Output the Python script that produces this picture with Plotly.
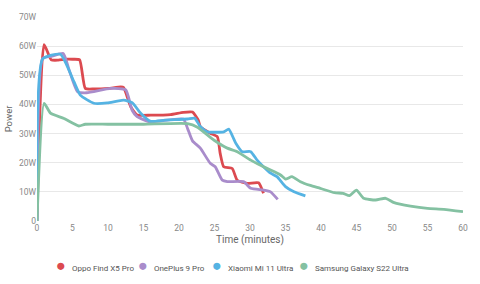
import plotly.graph_objects as go

# ---- data (time in minutes, power in W) ----
oppo_t = [0, 1, 2, 3, 4, 5, 6, 6.8, 8, 10, 11.8, 12.2, 13.2, 14.1, 16, 18.8, 20.6, 21.9, 22.7, 23, 24.4, 25.4, 25.8, 26.3, 27.5, 28.2, 29.6, 31.2, 31.9]
oppo_w = [0, 60.5, 55.3, 55.2, 55.5, 55.5, 55.3, 45.5, 45.3, 45.5, 46, 45.8, 39.2, 36.4, 36.3, 36.5, 37.3, 37.4, 34.7, 32.4, 30.1, 28.9, 23.2, 18.6, 18, 14, 12.9, 13.1, 9.5]

oneplus_t = [0, 0.8, 2, 3.7, 4.5, 5.7, 7, 10.4, 12.5, 13.4, 14.1, 16, 20.6, 21.2, 21.9, 23, 24.4, 25.1, 26.1, 26.8, 29.1, 30.1, 31.9, 32.9, 33.9]
oneplus_w = [0, 55.8, 56.5, 57.5, 52, 44.4, 44, 45.5, 45, 38, 35.8, 34, 35, 31.8, 27.5, 25, 19.8, 18.6, 14, 13.5, 13.5, 11.2, 10.6, 10, 7.4]

xiaomi_t = [0, 0.8, 3.3, 5.2, 6.1, 8, 9.9, 12.2, 13.4, 14.6, 16, 18, 21.2, 22.2, 23, 24, 26.3, 27, 28, 28.9, 30.1, 31, 31.9, 32.9, 33.8, 35, 36.2, 37.8]
xiaomi_w = [0, 55.6, 57.2, 47.8, 43.2, 40.4, 40.5, 41.5, 40.6, 37, 34.2, 34.6, 35, 35.3, 32.4, 30.6, 30.6, 31.5, 26.7, 23.8, 23.8, 20.9, 18.6, 16.4, 15.2, 11.8, 10, 8.6]

samsung_t = [0, 1, 1.9, 3.8, 5.9, 6.8, 10, 15, 21.2, 22.6, 24.9, 26.8, 28.2, 30.1, 31.9, 32.9, 34.3, 35, 35.9, 37.1, 38.5, 39.9, 41.9, 43.1, 44, 45, 46, 47.7, 49.1, 50.3, 52.6, 55, 57.3, 60]
samsung_w = [0, 40.4, 37, 35.2, 32.6, 33.2, 33.2, 33.2, 33.4, 32.2, 27.8, 25, 23.8, 20.9, 18.6, 17.5, 15.8, 14.4, 15.2, 13.5, 12.2, 11.2, 9.7, 9.5, 8.7, 10.6, 7.8, 7.2, 7.8, 6.3, 5.1, 4.3, 4.0, 3.2]

names = ["Oppo Find X5 Pro", "OnePlus 9 Pro", "Xiaomi Mi 11 Ultra", "Samsung Galaxy S22 Ultra"]
colors = ["#dc4a50", "#a98ccb", "#55b3e3", "#84c1a2"]
series = [(oppo_t, oppo_w), (oneplus_t, oneplus_w), (xiaomi_t, xiaomi_w), (samsung_t, samsung_w)]

y_ticks = [0, 10, 20, 30, 40, 50, 60, 70]
y_ticktext = ["0"] + [f"{v}W" for v in y_ticks[1:]]
x_ticks = [0, 5, 10, 15, 20, 25, 30, 35, 40, 45, 50, 55, 60]

FONT = "Roboto"

fig = go.Figure()
for (t, w), name, c in zip(series, names, colors):
    fig.add_trace(go.Scatter(
        x=t, y=w, mode="lines", name=name, showlegend=False,
        line=dict(color=c, width=2.8, shape="spline", smoothing=0.5),
        hoverinfo="skip",
    ))

# legend entries (one legend per entry so spacing can match the reference)
legend_x_px = [16, 98, 172, 259]
legend_keys = ["legend", "legend2", "legend3", "legend4"]
for name, c, key in zip(names, colors, legend_keys):
    fig.add_trace(go.Scatter(
        x=[None], y=[None], mode="markers",
        marker=dict(size=0.1, color="rgba(0,0,0,0)", opacity=0),
        name=f'<span style="color:{c};font-size:16.5px">●</span>\u00a0\u00a0\u00a0{name}',
        showlegend=True, legend=key,
    ))

legend_common = dict(
    orientation="h", xref="container", yref="container",
    yanchor="middle", xanchor="left", y=1 - 268 / 284,
    font=dict(family=FONT, size=8, color="#555555"),
    bgcolor="rgba(0,0,0,0)", borderwidth=0,
)
layout_legends = {}
for key, xp in zip(legend_keys, legend_x_px):
    layout_legends[key] = dict(legend_common, x=xp / 480)

fig.update_layout(
    width=480, height=284,
    margin=dict(l=37, r=17, t=17, b=63, autoexpand=False),
    paper_bgcolor="white", plot_bgcolor="white",
    font=dict(family=FONT, color="#888888"),
    **layout_legends,
)
fig.update_xaxes(
    range=[0, 60], tickvals=x_ticks, showgrid=False, zeroline=False,
    showline=False, ticks="", tickfont=dict(family=FONT, size=8.5, color="#888888"),
    title=dict(text="Time (minutes)", font=dict(family=FONT, size=10, color="#666666"), standoff=4),
    fixedrange=True,
)
fig.update_yaxes(
    range=[0, 70], tickvals=y_ticks, ticktext=y_ticktext,
    showgrid=True, gridcolor="#e8e8e8", gridwidth=1, zeroline=False,
    showline=False, ticks="", tickfont=dict(family=FONT, size=8.5, color="#888888"),
    title=dict(text="Power", font=dict(family=FONT, size=9.5, color="#666666"), standoff=4),
    fixedrange=True,
)

fig.write_html("out.html")
